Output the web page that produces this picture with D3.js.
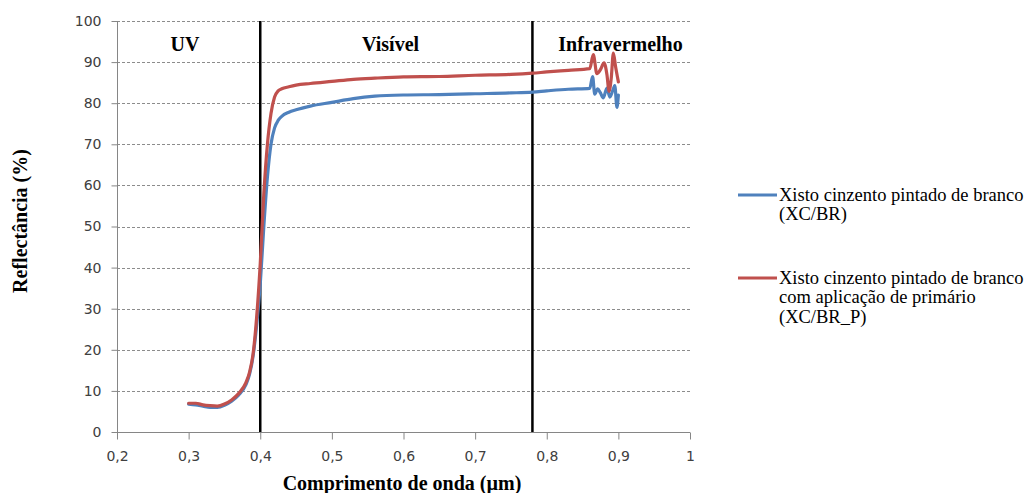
<!DOCTYPE html>
<html>
<head>
<meta charset="utf-8">
<script src="https://cdn.jsdelivr.net/npm/d3@7"></script>
<style>
  html, body { margin: 0; padding: 0; background: #ffffff; }
  svg { display: block; }
</style>
</head>
<body>
<svg id="chart" width="1027" height="493"></svg>
<script>
// ---- Data ----
const xTicks = [0.2, 0.3, 0.4, 0.5, 0.6, 0.7, 0.8, 0.9, 1];
const yTicks = [0, 10, 20, 30, 40, 50, 60, 70, 80, 90, 100];
const regionBounds = [0.4, 0.78];
const regionLabels = ["UV", "Visível", "Infravermelho"];
const regionLabelX = [0.295, 0.582, 0.903];

const seriesNames = ["XC/BR", "XC/BR_P"];
const legendLines = [
  ["Xisto cinzento pintado de branco", "(XC/BR)"],
  ["Xisto cinzento pintado de branco", "com aplicação de primário", "(XC/BR_P)"]
];

const blueWl = [0.300, 0.310, 0.320, 0.330, 0.340, 0.350, 0.360, 0.370, 0.380, 0.385, 0.390, 0.395,
  0.400, 0.405, 0.410, 0.415, 0.420, 0.425, 0.430, 0.440, 0.450, 0.470, 0.500, 0.530, 0.560, 0.600,
  0.650, 0.700, 0.750, 0.780, 0.800, 0.830, 0.860, 0.864, 0.867, 0.871, 0.875, 0.879, 0.884, 0.888,
  0.892, 0.895, 0.898, 0.900];
const blueVal = [6.8, 6.6, 6.3, 6.0, 6.0, 6.5, 7.5, 9.0, 11.5, 14.0, 18.5, 26.0,
  36.0, 50.0, 62.0, 70.0, 74.0, 75.8, 76.8, 77.8, 78.4, 79.3, 80.2, 81.1, 81.7, 82.0,
  82.1, 82.3, 82.5, 82.7, 83.0, 83.4, 83.6, 86.5, 82.2, 83.5, 82.5, 81.3, 83.7, 81.5,
  83.0, 84.3, 79.0, 82.0];

const redWl = [0.300, 0.310, 0.320, 0.330, 0.340, 0.350, 0.360, 0.370, 0.380, 0.385, 0.390, 0.395,
  0.400, 0.405, 0.410, 0.415, 0.420, 0.425, 0.430, 0.440, 0.450, 0.470, 0.500, 0.530, 0.560, 0.600,
  0.650, 0.700, 0.750, 0.780, 0.800, 0.830, 0.860, 0.865, 0.870, 0.875, 0.880, 0.884, 0.887, 0.890,
  0.893, 0.896, 0.900];
const redVal = [7.0, 7.0, 6.6, 6.4, 6.3, 6.8, 7.8, 9.4, 12.0, 14.5, 19.0, 28.0,
  41.0, 58.0, 70.0, 77.5, 81.5, 83.0, 83.5, 84.0, 84.4, 84.8, 85.3, 85.8, 86.1, 86.4,
  86.5, 86.8, 87.0, 87.3, 87.6, 88.0, 88.4, 91.8, 87.2, 88.2, 89.8, 87.0, 82.9, 86.0,
  92.2, 89.0, 85.2];

const colors = ["#4F81BD", "#C0504D"];

// ---- Layout ----
const svg = d3.select("#chart");
const plot = { left: 117, right: 690, top: 21, bottom: 432 };

const x = d3.scaleLinear().domain([0.2, 1]).range([plot.left, plot.right]);
const y = d3.scaleLinear().domain([0, 100]).range([plot.bottom, plot.top]);

const axisColor = "#868686";
const tickFont = "'DejaVu Sans', Verdana, sans-serif";
const serif = "'Liberation Serif', 'Times New Roman', serif";

// Grid lines (dashed)
svg.append("g")
  .selectAll("line")
  .data(yTicks.filter(d => d !== 0))
  .join("line")
  .attr("x1", plot.left).attr("x2", plot.right)
  .attr("y1", d => Math.round(y(d)) + 0.5).attr("y2", d => Math.round(y(d)) + 0.5)
  .attr("stroke", "#8c8c8c")
  .attr("stroke-width", 1)
  .attr("stroke-dasharray", "3,2");

// Y axis
const yAxis = svg.append("g")
  .attr("transform", `translate(${plot.left + 0.5},0)`)
  .call(d3.axisLeft(y).tickValues(yTicks).tickSize(6).tickPadding(10).tickFormat(d3.format("d")));
yAxis.select(".domain").attr("stroke", axisColor).attr("d", `M-0,${plot.top}V${plot.bottom}`);
yAxis.selectAll(".tick line").attr("stroke", axisColor);
yAxis.selectAll(".tick text")
  .attr("font-family", tickFont).attr("font-size", 14).attr("fill", "#404040");

// X axis
const xAxis = svg.append("g")
  .attr("transform", `translate(0,${plot.bottom + 0.5})`)
  .call(d3.axisBottom(x).tickValues(xTicks).tickSize(7).tickPadding(12)
    .tickFormat(d => d3.format("")(d).replace(".", ",")));
xAxis.select(".domain").attr("stroke", axisColor).attr("d", `M${plot.left},0H${plot.right}`);
xAxis.selectAll(".tick line").attr("stroke", axisColor);
xAxis.selectAll(".tick text")
  .attr("font-family", tickFont).attr("font-size", 14).attr("fill", "#404040");

// Region boundary lines
svg.append("g")
  .selectAll("line")
  .data(regionBounds)
  .join("line")
  .attr("x1", d => x(d)).attr("x2", d => x(d))
  .attr("y1", plot.top).attr("y2", plot.bottom)
  .attr("stroke", "#000").attr("stroke-width", 2.5);

// Region labels
svg.append("g")
  .selectAll("text")
  .data(regionLabels)
  .join("text")
  .attr("x", (d, i) => x(regionLabelX[i]))
  .attr("y", 51)
  .attr("text-anchor", "middle")
  .attr("font-family", serif).attr("font-weight", "bold").attr("font-size", 20)
  .attr("fill", "#000")
  .text(d => d);

// Series lines
const seriesData = [
  blueWl.map((w, i) => [w, blueVal[i]]),
  redWl.map((w, i) => [w, redVal[i]])
];
const line = d3.line().x(d => x(d[0])).y(d => y(d[1])).curve(d3.curveMonotoneX);

svg.append("g")
  .selectAll("path")
  .data(seriesData)
  .join("path")
  .attr("d", line)
  .attr("fill", "none")
  .attr("stroke", (d, i) => colors[i])
  .attr("stroke-width", 3.2)
  .attr("stroke-linejoin", "round")
  .attr("stroke-linecap", "round");

// Axis titles
svg.append("text")
  .attr("x", 402).attr("y", 490)
  .attr("text-anchor", "middle")
  .attr("font-family", serif).attr("font-weight", "bold").attr("font-size", 20)
  .attr("fill", "#000")
  .text("Comprimento de onda (µm)");

svg.append("text")
  .attr("transform", "translate(27,221) rotate(-90)")
  .attr("text-anchor", "middle")
  .attr("font-family", serif).attr("font-weight", "bold").attr("font-size", 20)
  .attr("fill", "#000")
  .text("Reflectância (%)");

// Legend
const legendY = [195, 278];
const legend = svg.append("g");
seriesNames.forEach((name, i) => {
  const g = legend.append("g").attr("class", "legend-" + name);
  g.append("line")
    .attr("x1", 738).attr("x2", 777)
    .attr("y1", legendY[i]).attr("y2", legendY[i])
    .attr("stroke", colors[i]).attr("stroke-width", 3.2);
  const t = g.append("text")
    .attr("font-family", serif).attr("font-size", 18.5).attr("fill", "#000");
  legendLines[i].forEach((ln, j) => {
    t.append("tspan").attr("x", 779).attr("y", legendY[i] + 6 + j * 19.3).text(ln);
  });
});
</script>
</body>
</html>
